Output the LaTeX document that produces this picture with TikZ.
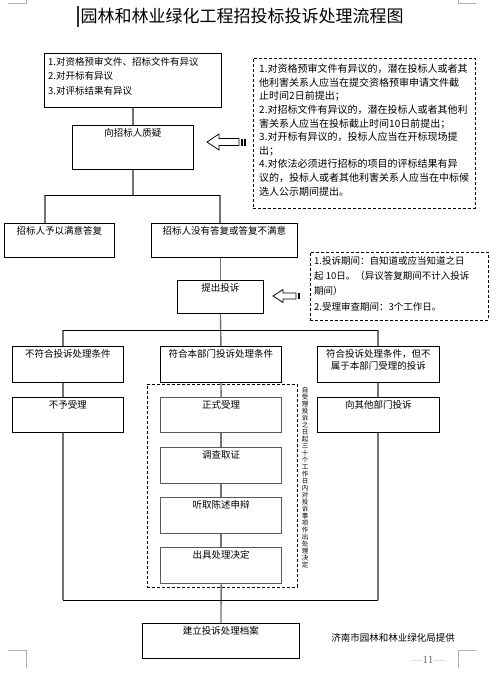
\documentclass[tikz,border=0pt]{standalone}
\usepackage{fontspec}
\newfontfamily\cjk{Noto Sans CJK SC}
\newcommand\mkbox[7]{%
  \node[#1, minimum width={#5pt-#3pt}, minimum height={#6pt-#4pt}] (#2) at (#3,#4) {};
  \node[txt] (#2t) at ([yshift=-3.5pt]#2.north) {#7};}
\begin{document}
\begin{tikzpicture}[x=1pt,y=-1pt,
  box/.style={draw=black, line width=0.9pt, inner sep=0pt, anchor=north west},
  gbox/.style={box, draw=black!65, line width=1.3pt},
  dbox/.style={draw=black, line width=0.9pt, dash pattern=on 3pt off 2pt, inner sep=0pt, anchor=north west},
  txt/.style={font=\cjk\fontsize{9.5}{11.5}\selectfont, inner sep=0pt, anchor=north, align=center},
  note/.style={font=\cjk\fontsize{10}{13.6}\selectfont, inner sep=0pt, anchor=north west, align=left},
  conn/.style={draw=black!55, line width=1.4pt},
  hl/.style={draw=black, line width=0.9pt},
  arr/.style={draw=black, line width=0.8pt, fill=white, line join=miter},
  crop/.style={draw=black!30, line width=0.8pt},
  ttl/.style={font=\cjk\fontsize{17}{20}\selectfont, inner sep=0pt}
]
\useasboundingbox[fill=white] (0,0) rectangle (500,683);
% page corner marks
\draw[crop] (8,3) -- (26,3) -- (26,0);
\draw[crop] (476,3) -- (458,3) -- (458,0);
\draw[crop] (8,650) -- (26,650) -- (26,668);
\draw[crop] (476,650) -- (458,650) -- (458,668);
% title
\node[ttl] (title) at (242,16) {园林和林业绿化工程招投标投诉处理流程图};
\draw[line width=1.3pt, black!80] (78,6) -- (78,27);
% box 1
\node[box, minimum width=177pt, minimum height=54pt] (b1) at (44,53) {};
\node[note, font=\cjk\fontsize{9.5}{14.5}\selectfont] (b1x) at (48,57)
  {1.对资格预审文件、招标文件有异议\\2.对开标有异议\\3.对评标结果有异议};
% notes 1
\node[dbox, minimum width=222pt, minimum height=150pt] (n1) at (253,58) {};
\node[note] (n1x) at (259,64) {1.对资格预审文件有异议的，潜在投标人或者其\\
他利害关系人应当在提交资格预审申请文件截\\
止时间2日前提出；\\
2.对招标文件有异议的，潜在投标人或者其他利\\
害关系人应当在投标截止时间10日前提出；\\
3.对开标有异议的，投标人应当在开标现场提\\
出；\\
4.对依法必须进行招标的项目的评标结果有异\\
议的，投标人或者其他利害关系人应当在中标候\\
选人公示期间提出。};
% boxes
\mkbox{box}{b2}{72}{125}{193}{169}{向招标人质疑}
\mkbox{box}{b3}{4}{223}{114}{257}{招标人予以满意答复}
\mkbox{box}{b4}{151}{223}{297}{257}{招标人没有答复或答复不满意}
\mkbox{box}{b5}{177}{280}{263}{313}{提出投诉}
\node[dbox, minimum width=178pt, minimum height=68pt] (n2) at (310,252) {};
\node[note, font=\cjk\fontsize{9.5}{15.3}\selectfont] (n2x) at (314,256)
  {1.投诉期间：自知道或应当知道之日\\起 10日。（异议答复期间不计入投诉\\期间）\\2.受理审查期间：3个工作日。};
\mkbox{box}{b6}{12}{346}{123}{382}{不符合投诉处理条件}
\mkbox{box}{b7}{160}{346}{281}{382}{符合本部门投诉处理条件}
\mkbox{box}{b8}{317}{346}{439}{382}{符合投诉处理条件，但不\\属于本部门受理的投诉}
\mkbox{box}{b9}{12}{397}{123}{432}{不予受理}
\mkbox{box}{b15}{317}{397}{439}{432}{向其他部门投诉}
\node[dbox, minimum width=150pt, minimum height=203pt] (n3) at (147,384) {};
\mkbox{gbox}{b10}{160}{397}{281}{432}{正式受理}
\mkbox{gbox}{b11}{160}{447}{281}{483}{调查取证}
\mkbox{gbox}{b12}{160}{497}{281}{533}{听取陈述申辩}
\mkbox{gbox}{b13}{160}{547}{281}{583}{出具处理决定}
\mkbox{box}{b14}{142}{623}{299}{658}{建立投诉处理档案}
\node[font=\cjk\fontsize{6.5}{7}\selectfont, inner sep=0pt, align=center] (vt) at (305,478)
  {自\\受\\理\\投\\诉\\之\\日\\起\\三\\十\\个\\工\\作\\日\\内\\对\\投\\诉\\事\\项\\作\\出\\处\\理\\决\\定};
% arrows
\draw[arr] (207,142) -- (219,134) -- (219,138.5) -- (239,138.5) -- (239,145.5) -- (219,145.5) -- (219,150) -- cycle;
\fill (240.5,138.5) rectangle (242.5,145.5);
\fill (244,138.5) rectangle (246,145.5);
\draw[arr] (273,296) -- (283,289.5) -- (283,293) -- (296,293) -- (296,299) -- (283,299) -- (283,302.5) -- cycle;
\fill (297.5,293) rectangle (300,299);
% connectors
\coordinate (j1) at (45,195);
\coordinate (j2) at (220,195);
\coordinate (j3) at (63,330);
\coordinate (j4) at (378,330);
\coordinate (j5) at (63,600);
\coordinate (j6) at (378,600);
\draw[conn] (b1.south) -- (b2.north);
\draw[conn] (b2.south) -- (b2.south |- j1);
\draw[conn] (j1) -- (j1 |- b3.north);
\draw[conn] (j2) -- (j2 |- b4.north);
\draw[conn] (b5.north |- b4.south) -- (b5.north);
\draw[conn] (b5.south) -- (b7.north);
\draw[conn] (j3) -- (j3 |- b6.north);
\draw[conn] (j4) -- (j4 |- b8.north);
\draw[conn] (j3 |- b6.south) -- (j3 |- b9.north);
\draw[conn] (b7.south) -- (b10.north);
\draw[conn] (j4 |- b8.south) -- (j4 |- b15.north);
\draw[conn] (b10.south) -- (b11.north);
\draw[conn] (b11.south) -- (b12.north);
\draw[conn] (b12.south) -- (b13.north);
\draw[conn] (b13.south) -- (b14.north);
\draw[conn] (j3 |- b9.south) -- (j5);
\draw[conn] (j4 |- b15.south) -- (j6);
\draw[hl] (j1) -- (j2);
\draw[hl] (j3) -- (j4);
\draw[hl] (j5) -- (j6);
% footer
\node[font=\cjk\fontsize{9.5}{11}\selectfont, inner sep=0pt] (src) at (393,638) {济南市园林和林业绿化局提供};
\node[font=\fontsize{11}{13}\selectfont, inner sep=0pt, text=black!70] (pg) at (428,660) {—11—};
\end{tikzpicture}
\end{document}
